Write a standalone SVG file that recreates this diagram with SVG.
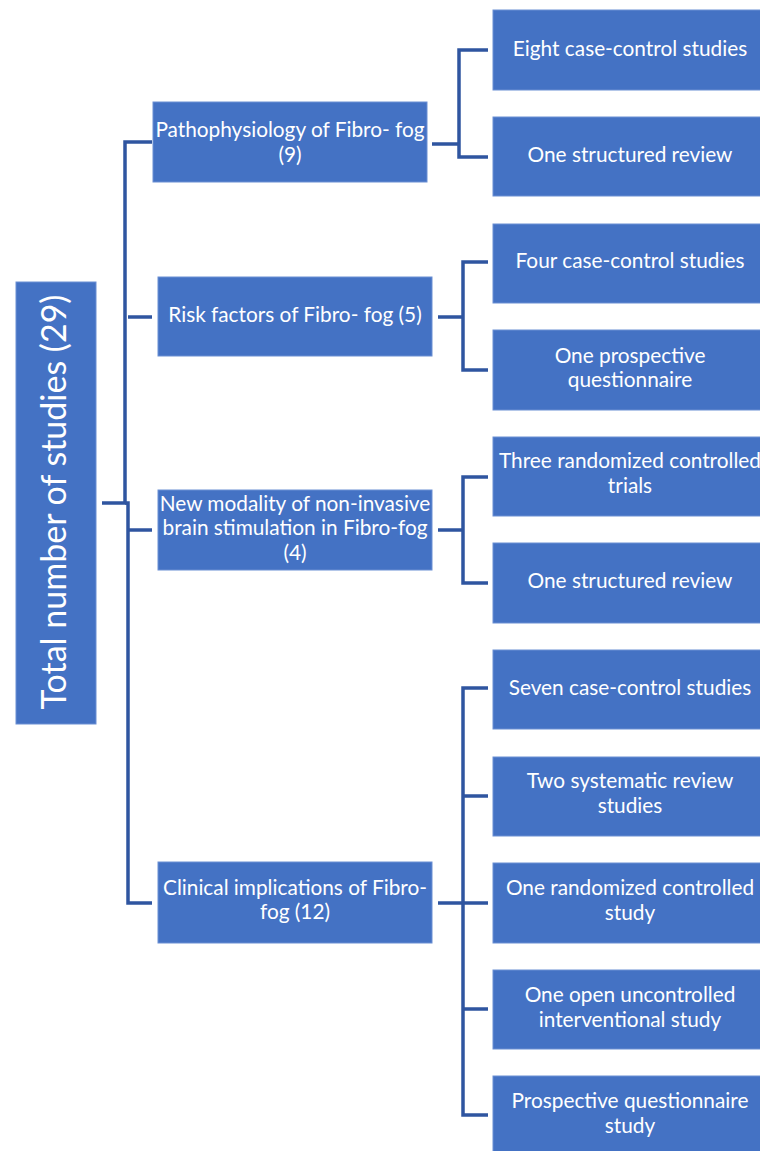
<svg xmlns="http://www.w3.org/2000/svg" width="760" height="1151" viewBox="0 0 760 1151">
<style>
.box{fill:#4472C4;stroke:#6B8FD3;stroke-width:1}
.t{font-family:Lato,"Open Sans","Liberation Sans",sans-serif;fill:#ffffff;text-anchor:middle}
.m{font-size:20.8px}
.r{font-size:20.8px}
.c{fill:none;stroke:#2F55A0;stroke-width:3.5;stroke-linejoin:miter}
</style>
<rect width="760" height="1151" fill="#ffffff"/>
<g id="connectors">
<path class="c" d="M102,503 H125 V142 H152"/>
<path class="c" d="M125,503 H128 V903 H152"/>
<path class="c" d="M128,317 H152"/>
<path class="c" d="M128,530 H152"/>
<path class="c" d="M432,144 H459 M488,50 H459 V157 H488"/>
<path class="c" d="M438,317 H463 M488,262 H463 V370 H488"/>
<path class="c" d="M438,530 H463 M488,477 H463 V583 H488"/>
<path class="c" d="M438,903 H463 M488,688 H463 V1115 H488 M463,796 H488 M463,903 H488 M463,1009 H488"/>
</g>
<g id="root">
<rect class="box" x="16" y="282" width="80" height="442"/>
<text class="t" style="font-size:34px" transform="translate(66,502) rotate(-90)">Total number of studies (29)</text>
</g>
<g id="patho">
<rect class="box" x="153" y="102" width="274" height="80"/>
<text class="t m" x="290" y="137">Pathophysiology of Fibro- fog</text>
<text class="t m" x="290" y="162">(9)</text>
</g>
<g id="risk">
<rect class="box" x="158" y="277" width="274" height="79"/>
<text class="t m" x="295" y="322">Risk factors of Fibro- fog (5)</text>
</g>
<g id="modality">
<rect class="box" x="158" y="490" width="274" height="80"/>
<text class="t m" x="295" y="511">New modality of non-invasive</text>
<text class="t m" x="295" y="535">brain stimulation in Fibro-fog</text>
<text class="t m" x="295" y="560">(4)</text>
</g>
<g id="clinical">
<rect class="box" x="158" y="862" width="274" height="81"/>
<text class="t m" x="295" y="895">Clinical implications of Fibro-</text>
<text class="t m" x="295" y="919">fog (12)</text>
</g>
<g id="r1"><rect class="box" x="493" y="10" width="274" height="80"/><text class="t r" x="630" y="56">Eight case-control studies</text></g>
<g id="r2"><rect class="box" x="493" y="117" width="274" height="79"/><text class="t r" x="630" y="162">One structured review</text></g>
<g id="r3"><rect class="box" x="493" y="224" width="274" height="79"/><text class="t r" x="630" y="268">Four case-control studies</text></g>
<g id="r4"><rect class="box" x="493" y="330" width="274" height="80"/><text class="t r" x="630" y="363">One prospective</text><text class="t r" x="630" y="387">questionnaire</text></g>
<g id="r5"><rect class="box" x="493" y="437" width="274" height="79"/><text class="t r" x="630" y="468">Three randomized controlled</text><text class="t r" x="630" y="493">trials</text></g>
<g id="r6"><rect class="box" x="493" y="543" width="274" height="80"/><text class="t r" x="630" y="588">One structured review</text></g>
<g id="r7"><rect class="box" x="493" y="650" width="274" height="79"/><text class="t r" x="630" y="695">Seven case-control studies</text></g>
<g id="r8"><rect class="box" x="493" y="757" width="274" height="79"/><text class="t r" x="630" y="788">Two systematic review</text><text class="t r" x="630" y="813">studies</text></g>
<g id="r9"><rect class="box" x="493" y="863" width="274" height="80"/><text class="t r" x="630" y="895">One randomized controlled</text><text class="t r" x="630" y="920">study</text></g>
<g id="r10"><rect class="box" x="493" y="970" width="274" height="79"/><text class="t r" x="630" y="1002">One open uncontrolled</text><text class="t r" x="630" y="1027">interventional study</text></g>
<g id="r11"><rect class="box" x="493" y="1076" width="274" height="85"/><text class="t r" x="630" y="1108">Prospective questionnaire</text><text class="t r" x="630" y="1133">study</text></g>
</svg>
